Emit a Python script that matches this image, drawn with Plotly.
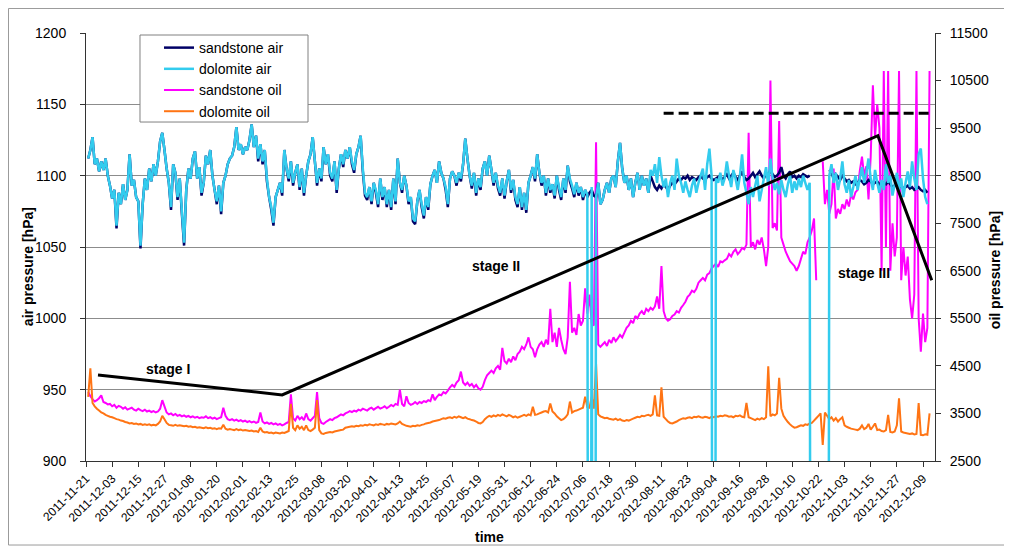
import pandas as pd
import plotly.graph_objects as go

start_date = "2011-11-22"   # first daily sample

sandstone_air = [
    1112,1118,1127,1108,1112,1103,1110,1104,1112,1100,
    1093,1084,1090,1063,1088,1080,1094,1083,1090,1115,
    1093,1097,1085,1082,1049,1080,1098,1090,1105,1096,
    1108,1100,1110,1124,1130,1118,1105,1095,1076,1108,
    1102,1083,1098,1073,1051,1090,1105,1098,1112,1117,
    1098,1106,1086,1095,1114,1108,1118,1100,1090,1080,
    1093,1073,1095,1100,1108,1112,1114,1120,1134,1118,
    1122,1115,1120,1118,1125,1136,1120,1128,1110,1122,
    1108,1118,1096,1085,1076,1065,1085,1090,1095,1086,
    1118,1105,1096,1110,1093,1102,1108,1090,1105,1086,
    1100,1110,1115,1127,1110,1093,1105,1096,1120,1108,
    1115,1100,1096,1110,1088,1105,1115,1106,1118,1112,
    1120,1108,1102,1115,1120,1128,1103,1086,1083,1092,
    1080,1095,1088,1078,1098,1083,1092,1078,1090,1076,
    1098,1080,1112,1095,1088,1100,1093,1080,1085,1068,
    1066,1082,1090,1078,1070,1085,1076,1094,1100,1104,
    1095,1110,1102,1098,1090,1078,1098,1103,1100,1093,
    1102,1096,1108,1126,1112,1100,1091,1102,1086,1098,
    1090,1105,1110,1100,1114,1104,1093,1102,1091,1086,
    1098,1084,1096,1104,1088,1097,1083,1078,1092,1076,
    1088,1074,1095,1100,1106,1096,1115,1102,1093,1100,
    1086,1098,1088,1094,1084,1100,1090,1083,1098,1088,
    1107,1096,1091,1085,1095,1086,1092,1083,1090,1085,
    1088,1090,1086,1085,1095,1080,1083,1090,1095,1088,
    1098,1100,1092,1110,1123,1105,1095,1100,1090,1098,
    1085,1095,1102,1090,1100,1093,1098,1088,1100,1096,
    1092,1090,1093,1091,1094,1092,1090,1093,1095,1094,
    1096,1098,1097,1099,1098,1100,1097,1099,1098,1097,
    1099,1100,1098,1097,1099,1100,1098,1097,1098,1099,
    1100,1097,1099,1101,1098,1100,1102,1099,1097,1100,
    1103,1099,1097,1098,1100,1102,1099,1101,1103,1100,
    1098,1102,1100,1104,1101,1099,1100,1102,1106,1100,
    1098,1101,1103,1099,1100,1098,1100,1099,1101,1100,
    1099,1100,None,None,None,None,None,None,None,None,
    1104,1102,1098,1101,1099,1097,1100,1098,1096,1097,
    1095,1096,1094,1095,1097,1096,1094,1095,1097,1096,
    1094,1095,1096,1094,1093,1095,1094,1096,1094,1092,
    1093,1094,1092,1093,1091,1092,1093,1091,1092,1090,
    1091,1092,1090,1089,1090,1088,
]

dolomite_air = [
    1112,1118,1127,1108,1112,1103,1110,1104,1112,1100,
    1093,1084,1090,1065,1088,1080,1094,1083,1090,1115,
    1093,1097,1085,1082,1051,1080,1098,1090,1105,1096,
    1108,1100,1110,1124,1130,1118,1105,1095,1078,1108,
    1102,1085,1098,1075,1053,1090,1105,1098,1112,1117,
    1098,1106,1088,1095,1114,1108,1118,1100,1090,1082,
    1093,1075,1095,1100,1108,1112,1114,1120,1134,1118,
    1122,1115,1120,1118,1125,1136,1120,1128,1112,1122,
    1110,1118,1098,1085,1078,1067,1085,1090,1095,1088,
    1118,1105,1098,1110,1095,1102,1108,1092,1105,1088,
    1100,1110,1115,1127,1110,1095,1105,1098,1120,1108,
    1115,1102,1098,1110,1090,1105,1115,1108,1118,1112,
    1120,1110,1104,1115,1120,1128,1105,1088,1085,1092,
    1082,1095,1090,1080,1098,1085,1092,1080,1090,1078,
    1098,1082,1112,1095,1090,1100,1093,1082,1085,1070,
    1068,1082,1090,1080,1072,1085,1078,1094,1100,1104,
    1095,1110,1102,1098,1092,1080,1098,1103,1100,1095,
    1102,1098,1108,1126,1112,1100,1093,1102,1088,1098,
    1092,1105,1110,1100,1114,1104,1095,1102,1093,1088,
    1098,1086,1096,1104,1090,1097,1085,1080,1092,1078,
    1088,1076,1095,1100,1106,1098,1115,1102,1095,1100,
    1088,1098,1090,1094,1086,1100,1092,1085,1098,1090,
    1107,1098,1093,1087,1095,1088,1092,1085,1090,1087,
    0,1092,0,1085,1095,1080,1083,1090,1095,1088,
    1098,1100,1092,1110,1123,1105,1095,1100,1090,1098,
    1085,1095,1102,1090,1100,1093,1098,1088,1104,1100,
    1108,1095,1113,1100,1092,1098,1085,1095,1100,1090,
    1112,1100,1095,1088,1096,1090,1085,1093,1098,1088,
    1095,1100,1105,1090,1108,1119,1100,0,1098,1095,
    1102,1093,1098,1110,1100,1092,1104,1098,1090,1100,
    1115,1095,1088,1080,1092,1085,1093,1100,1082,1090,
    1098,1106,1093,1112,1098,1090,1095,1087,1097,1090,
    1085,1094,1100,1088,1096,1090,1098,1092,1100,1095,
    1090,1095,0,0,0,0,0,0,0,0,
    1100,1108,1095,1102,1090,1098,1110,1094,1088,1097,
    1085,1092,1100,1090,1098,1106,1095,1102,1112,1098,
    1090,1104,1095,1088,1097,1090,1108,1095,1100,1086,
    1094,1102,1090,1098,1085,1095,1103,1092,1110,1098,
    1090,1115,1119,1098,1085,1080,
]

sandstone_oil = [
    3950,3860,3800,3750,3780,3820,3880,3740,3720,3690,
    3700,3650,3680,3620,3660,3640,3600,3630,3580,3600,
    3620,3580,3560,3600,3570,3550,3580,3540,3560,3530,
    3550,3520,3540,3600,3780,3650,3520,3480,3500,3460,
    3490,3450,3470,3440,3460,3430,3450,3420,3440,3410,
    3430,3400,3420,3410,3440,3400,3420,3390,3410,3380,
    3400,3420,3620,3450,3380,3360,3380,3350,3370,3340,
    3360,3330,3350,3320,3340,3310,3330,3300,3320,3520,
    3330,3290,3310,3280,3300,3270,3290,3260,3280,3250,
    3270,3300,3320,3900,3400,3350,3450,3380,3420,3360,
    3500,3380,3350,3400,3450,3950,3400,3300,3280,3320,
    3350,3380,3360,3400,3420,3450,3480,3460,3500,3520,
    3550,3530,3560,3540,3580,3560,3600,3580,3560,3600,
    3620,3580,3610,3640,3600,3620,3650,3610,3640,3680,
    3650,3700,3680,4000,3700,3650,3860,3720,3680,3700,
    3740,3700,3740,3720,3760,3740,3780,3760,3900,3780,
    3850,3900,3880,3950,3920,3980,4050,4100,4060,4150,
    4200,4380,4150,4100,4150,4080,4120,4050,4100,4030,
    4000,4060,4200,4300,4350,4400,4350,4450,4500,4420,
    4880,4600,4550,4650,4580,4700,4620,4750,4800,4900,
    4850,4950,5100,4900,4850,4680,4850,4950,5000,4900,
    5050,4950,5700,5000,5200,4900,5300,5050,4850,4750,
    5100,6270,5200,5300,5150,5590,5350,5450,6130,5600,
    6000,5400,5350,9200,4950,4900,4950,5000,4920,5050,
    4980,5100,5020,5080,5150,5100,5200,5300,5350,5450,
    5400,5550,5500,5600,5650,5580,5700,5650,5720,5680,
    5750,5960,5700,6600,5650,5500,5450,5480,5550,5580,
    5650,5620,5720,5780,5850,5950,6000,6080,6050,6120,
    6250,6300,6350,6300,6420,6450,6550,6600,6650,6580,
    6700,6680,6720,6750,6850,6800,6900,6950,6850,6900,
    6980,6950,7050,9400,7000,7100,6950,7150,7050,7200,
    6950,6600,7000,10500,7400,7500,7350,9650,7200,7050,
    6900,6800,6700,6650,6600,6500,6600,6750,6900,6850,
    7100,7200,7350,7600,6300,None,None,8800,7900,8200,
    7700,7900,8650,7600,7800,7700,7900,7800,8000,7850,
    8100,8000,8150,8200,8600,8900,8500,8700,8000,8900,
    10400,9300,10000,9500,6500,10700,7000,10700,6500,7500,
    6800,7200,10700,6300,7000,6400,6800,5900,5500,6000,
    10700,5500,4800,5600,5000,5300,10700,
]

dolomite_oil = [
    3850,4450,3720,3650,3600,3560,3520,3500,3470,3450,
    3430,3420,3400,3380,3370,3350,3340,3320,3310,3290,
    3300,3280,3290,3270,3280,3260,3270,3260,3270,3250,
    3260,3250,3280,3330,3450,3380,3300,3260,3250,3240,
    3260,3240,3250,3240,3230,3240,3220,3230,3210,3220,
    3200,3210,3200,3190,3210,3190,3200,3180,3190,3170,
    3190,3180,3260,3180,3160,3170,3160,3150,3170,3150,
    3160,3140,3150,3140,3130,3140,3120,3130,3110,3200,
    3120,3100,3110,3090,3100,3080,3100,3090,3080,3100,
    3090,3110,3130,3700,3200,3150,3250,3180,3220,3150,
    3250,3150,3130,3160,3200,3780,3150,3080,3070,3090,
    3100,3110,3100,3120,3130,3140,3150,3160,3200,3210,
    3220,3230,3220,3240,3230,3250,3240,3260,3250,3270,
    3260,3250,3270,3260,3280,3270,3260,3280,3270,3290,
    3280,3270,3290,3330,3280,3260,3240,3230,3220,3240,
    3230,3250,3240,3260,3270,3290,3300,3310,3330,3340,
    3350,3360,3380,3400,3390,3410,3420,3400,3430,3410,
    3440,3420,3400,3420,3390,3380,3360,3350,3330,3300,
    3290,3320,3380,3420,3450,3430,3460,3440,3470,3450,
    3480,3460,3440,3470,3450,3420,3440,3410,3430,3450,
    3470,3450,3480,3460,3640,3470,3480,3500,3520,3540,
    3550,3520,3710,3540,3500,3440,3400,3360,3380,3420,
    3480,3750,3520,3550,3560,3580,3600,3620,3850,3630,
    3620,3850,3600,4550,3480,3440,3420,3400,3410,3390,
    3380,3370,3390,3360,3380,3350,3340,3360,3350,3370,
    3390,3410,3430,3420,3450,3440,3460,3470,3450,3480,
    3880,3460,3450,4050,3430,3380,3330,3300,3290,3310,
    3330,3360,3380,3400,3390,3410,3420,3400,3430,3420,
    3440,3420,3410,3430,3420,3400,3430,3420,3440,3430,
    3450,3440,3460,3450,3430,3440,3420,3450,3440,3460,
    3430,3420,3720,3420,3400,3380,3360,3390,3370,3400,
    3380,3420,4490,3440,3480,3460,3500,4250,3600,3450,
    3380,3320,3270,3230,3200,3210,3230,3250,3240,3270,
    3260,3290,3300,3350,3400,3450,3500,2840,3520,3450,
    3380,3420,3350,3400,3330,3380,3420,3250,3220,3200,
    3180,3170,3160,3150,3180,3250,3170,3200,3280,3160,
    3220,3290,3150,3160,3130,3120,3150,3470,3110,3100,
    3120,3250,3820,3120,3100,3090,3080,3070,3080,3060,
    3070,3720,3050,3040,3060,3050,3500,
]

# stage trend line (oil pressure units) and dashed limit line
stage_dates = ["2011-11-26 12:00", "2012-02-19 00:00", "2012-11-18 07:00", "2012-12-13 00:00"]
stage_oil = [4310, 3890, 9340, 6300]
limit_dates = ["2012-08-12 00:00", "2012-12-12 12:00"]
limit_oil = [9810, 9810]

air_ticks = [900, 950, 1000, 1050, 1100, 1150, 1200]
oil_ticks = [2500, 3500, 4500, 5500, 6500, 7500, 8500, 9500, 10500, 11500]

FONT = "Liberation Sans, Arial, sans-serif"


def days(series):
    return pd.date_range(start_date, periods=len(series), freq="D")


fig = go.Figure()

fig.add_trace(go.Scatter(x=days(sandstone_oil), y=sandstone_oil, name="sandstone oil",
                         mode="lines", yaxis="y", legendrank=3, legendgroup="g3",
                         line=dict(color="#FF00FF", width=2, simplify=False)))
fig.add_trace(go.Scatter(x=days(dolomite_oil), y=dolomite_oil, name="dolomite oil",
                         mode="lines", yaxis="y", legendrank=4, legendgroup="g4",
                         line=dict(color="#FF7414", width=2, simplify=False)))
fig.add_trace(go.Scatter(x=days(sandstone_air), y=sandstone_air, name="sandstone air",
                         mode="lines", yaxis="y2", legendrank=1, legendgroup="g1",
                         line=dict(color="#000066", width=2.5, simplify=False)))
fig.add_trace(go.Scatter(x=days(dolomite_air), y=dolomite_air, name="dolomite air",
                         mode="lines", yaxis="y2", legendrank=2, legendgroup="g2",
                         line=dict(color="#33CCEE", width=2.5, simplify=False)))
fig.add_trace(go.Scatter(x=stage_dates, y=stage_oil, mode="lines", yaxis="y3",
                         showlegend=False, line=dict(color="black", width=3)))
fig.add_trace(go.Scatter(x=limit_dates, y=limit_oil, mode="lines", yaxis="y3",
                         showlegend=False, line=dict(color="black", width=3, dash="10px,5px")))

axis_common = dict(showline=True, linecolor="#333333", linewidth=1, ticks="outside",
                   ticklen=5, tickcolor="#333333", zeroline=False, automargin=False)

# the page body has an 8px margin; the figure is sized so the plot area lands
# at x 86..935, y 33..461 of the 1012x550 window
fig.update_layout(
    width=1004, height=542,
    margin=dict(l=78, r=77, t=25, b=89, autoexpand=False),
    paper_bgcolor="white", plot_bgcolor="white",
    font=dict(family=FONT, size=14, color="black"),
    showlegend=True,
    legend=dict(x=0.086, y=1.0023, xanchor="left", yanchor="top",
                bgcolor="rgba(0,0,0,0)", borderwidth=0, itemwidth=30,
                font=dict(family=FONT, size=14, color="black"),
                traceorder="grouped", tracegroupgap=0),
    xaxis=dict(type="date", range=["2011-11-21", "2012-12-14 12:00"],
               tick0="2011-11-21", dtick=12 * 86400000, tickformat="%Y-%m-%d",
               tickangle=-45, tickfont=dict(size=12), showgrid=False, **axis_common),
    yaxis=dict(side="right", range=[2500, 11500], tickvals=oil_ticks, tickformat="d",
               showgrid=False, ticklabelstandoff=6, tickfont=dict(size=14), **axis_common),
    yaxis2=dict(side="left", overlaying="y", range=[900, 1200], tickvals=air_ticks,
                tickformat="d", showgrid=True, gridcolor="#8c8c8c", gridwidth=1,
                ticklabelstandoff=11, tickfont=dict(size=14), **axis_common),
    yaxis3=dict(overlaying="y", range=[2500, 11500], visible=False),
    shapes=[
        dict(type="rect", xref="paper", yref="paper", x0=-0.0913, x1=1.0836,
             y0=-0.1963, y1=1.0573, line=dict(color="#9a9a9a", width=1), layer="below"),
        dict(type="rect", xref="paper", yref="paper", x0=0.0636, x1=0.2615,
             y0=0.792, y1=0.9953, line=dict(color="#808080", width=1),
             fillcolor="white", layer="above"),
    ],
    annotations=[
        dict(text="<b>air pressure [hPa]</b>", xref="paper", yref="paper", x=-0.0683, y=0.453,
             xanchor="center", yanchor="middle", textangle=-90, showarrow=False,
             font=dict(size=14)),
        dict(text="<b>oil pressure [hPa]</b>", xref="paper", yref="paper", x=1.0707, y=0.446,
             xanchor="center", yanchor="middle", textangle=-90, showarrow=False,
             font=dict(size=14)),
        dict(text="<b>time</b>", xref="paper", yref="paper", x=0.4758, y=-0.1776,
             xanchor="center", yanchor="middle", showarrow=False, font=dict(size=14)),
        dict(text="<b>stage I</b>", xref="x", yref="y2", x="2011-12-28 13:00", y=964.5,
             xanchor="center", yanchor="middle", showarrow=False, font=dict(size=14)),
        dict(text="<b>stage II</b>", xref="x", yref="y2", x="2012-05-27 07:00", y=1036.7,
             xanchor="center", yanchor="middle", showarrow=False, font=dict(size=14)),
        dict(text="<b>stage III</b>", xref="x", yref="y2", x="2012-11-11 20:00", y=1031.8,
             xanchor="center", yanchor="middle", showarrow=False, font=dict(size=14)),
    ],
)

fig.write_html("out.html")
